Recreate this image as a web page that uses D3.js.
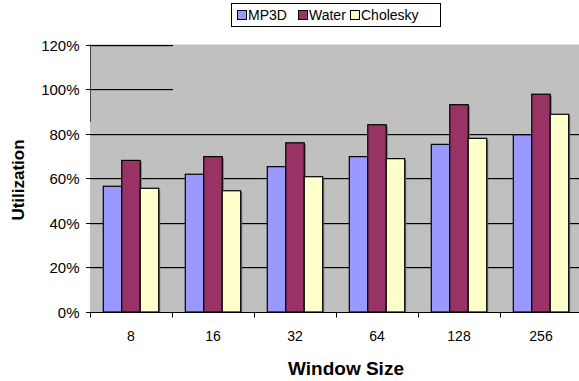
<!DOCTYPE html>
<html>
<head>
<meta charset="utf-8">
<script src="https://cdn.jsdelivr.net/npm/d3@7"></script>
<style>
  body { margin: 0; background: #fff; }
  svg { display: block; font-family: Arial, "Liberation Sans", sans-serif; }
</style>
</head>
<body>
<div id="chart"></div>
<script>
//Datos
const categories = ['8', '16', '32', '64', '128', '256'];
const seriesNames = ['MP3D', 'Water', 'Cholesky'];
const mp3d = [56.4, 61.8, 65.2, 69.7, 75.2, 79.5];
const water = [68.0, 69.7, 75.9, 84.0, 93.0, 97.7];
const cholesky = [55.5, 54.4, 60.7, 68.8, 77.9, 88.7];
const yTicks = [0, 20, 40, 60, 80, 100, 120];

//Colores fijos
const COLORS = ['#9999FF', '#993366', '#FFFFCC'];
const PLOT_BG = '#C0C0C0';
const FONT = 'Arial, "Liberation Sans", sans-serif';

const width = 579, height = 381;
const margin = { top: 44.5, right: -3, bottom: 69, left: 90 };

const svg = d3.select('#chart').append('svg')
    .attr('width', width)
    .attr('height', height);

const x = d3.scaleBand()
    .domain(categories)
    .range([margin.left, width - margin.right]);

const xInner = d3.scaleBand()
    .domain(seriesNames)
    .range([0, x.bandwidth()])
    .paddingOuter(0.72)
    .paddingInner(0);

const y = d3.scaleLinear()
    .domain([0, 120])
    .range([height - margin.bottom, margin.top]);

//Fondo del área de trazado
svg.append('rect')
    .attr('x', margin.left)
    .attr('y', y(120))
    .attr('width', width - margin.right - margin.left)
    .attr('height', y(0) - y(120))
    .attr('fill', PLOT_BG);

//Líneas de cuadrícula (las de 100% y 120% sólo se ven a la izquierda)
const grid = svg.append('g');
yTicks.filter(d => d > 0).forEach(function(d) {
    let x2 = d >= 100 ? 173 : width;
    grid.append('line')
        .attr('x1', margin.left).attr('x2', x2)
        .attr('y1', Math.round(y(d)) + 1.5).attr('y2', Math.round(y(d)) + 1.5)
        .attr('stroke', '#9a9a9a').attr('stroke-width', 1);
    grid.append('line')
        .attr('x1', margin.left).attr('x2', x2)
        .attr('y1', Math.round(y(d)) + 0.5).attr('y2', Math.round(y(d)) + 0.5)
        .attr('stroke', '#000').attr('stroke-width', 1);
});

//Barras
const seriesValues = [mp3d, water, cholesky];
const rows = categories.map(function(c, i) {
    return seriesNames.map(function(s, j) { return { cat: c, name: s, value: seriesValues[j][i], idx: j }; });
});

const groups = svg.selectAll('g.group')
    .data(rows)
    .enter().append('g')
    .attr('class', 'group')
    .attr('transform', (d, i) => 'translate(' + x(categories[i]) + ',0)');

//Sombra
groups.selectAll('rect.shadow')
    .data(d => d)
    .enter().append('rect')
    .attr('class', 'shadow')
    .attr('x', d => xInner(d.name) + 1.5)
    .attr('y', d => y(d.value) + 1.5)
    .attr('width', xInner.bandwidth())
    .attr('height', d => y(0) - y(d.value) - 1.5)
    .attr('fill', '#6e6e6e');

groups.selectAll('rect.bar')
    .data(d => d)
    .enter().append('rect')
    .attr('class', 'bar')
    .attr('x', d => xInner(d.name))
    .attr('y', d => y(d.value))
    .attr('width', xInner.bandwidth())
    .attr('height', d => y(0) - y(d.value))
    .attr('fill', d => COLORS[d.idx])
    .attr('stroke', '#000')
    .attr('stroke-width', 1.2);

//Eje Y
const yAxis = svg.append('g');
yAxis.append('line')
    .attr('x1', margin.left + 0.5).attr('x2', margin.left + 0.5)
    .attr('y1', y(120)).attr('y2', 122)
    .attr('stroke', '#404040');
yTicks.forEach(function(d) {
    let yy = Math.round(y(d)) + 0.5;
    yAxis.append('line')
        .attr('x1', 86).attr('x2', margin.left)
        .attr('y1', yy).attr('y2', yy)
        .attr('stroke', '#000');
    yAxis.append('text')
        .attr('x', 79.5)
        .attr('y', yy + 5.5)
        .attr('text-anchor', 'end')
        .attr('font-size', 15)
        .attr('fill', '#000')
        .text(d + '%');
});

//Eje X
const xAxisG = svg.append('g')
    .attr('transform', 'translate(0,' + (Math.round(y(0)) + 0.5) + ')')
    .call(d3.axisBottom(x).tickSize(0).tickPadding(19));
xAxisG.attr('font-family', FONT).attr('font-size', 14);
xAxisG.select('.domain').attr('stroke', '#000').attr('d', 'M' + (margin.left - 4) + ',0H' + width);
xAxisG.selectAll('text').attr('fill', '#000');
categories.forEach(function(c) {
    let xx = Math.round(x(c)) + 0.5;
    xAxisG.append('line')
        .attr('x1', xx).attr('x2', xx)
        .attr('y1', 0).attr('y2', 5)
        .attr('stroke', '#000');
});

//Títulos de ejes
svg.append('text')
    .attr('x', 346)
    .attr('y', 375)
    .attr('text-anchor', 'middle')
    .attr('font-size', 19)
    .attr('font-weight', 'bold')
    .text('Window Size');

svg.append('text')
    .attr('transform', 'translate(23.5,180) rotate(-90)')
    .attr('text-anchor', 'middle')
    .attr('font-size', 17)
    .attr('font-weight', 'bold')
    .text('Utilization');

//Leyenda
const legend = svg.append('g');
legend.append('rect')
    .attr('x', 231.5).attr('y', 3.5)
    .attr('width', 209).attr('height', 23)
    .attr('fill', '#fff')
    .attr('stroke', '#000');
const legendX = [237, 298, 350];
seriesNames.forEach(function(s, i) {
    legend.append('rect')
        .attr('x', legendX[i] + 0.5).attr('y', 10.5)
        .attr('width', 9).attr('height', 9)
        .attr('fill', COLORS[i])
        .attr('stroke', '#000');
    legend.append('text')
        .attr('x', legendX[i] + 11)
        .attr('y', 20)
        .attr('font-size', 14)
        .text(s);
});
</script>
</body>
</html>
